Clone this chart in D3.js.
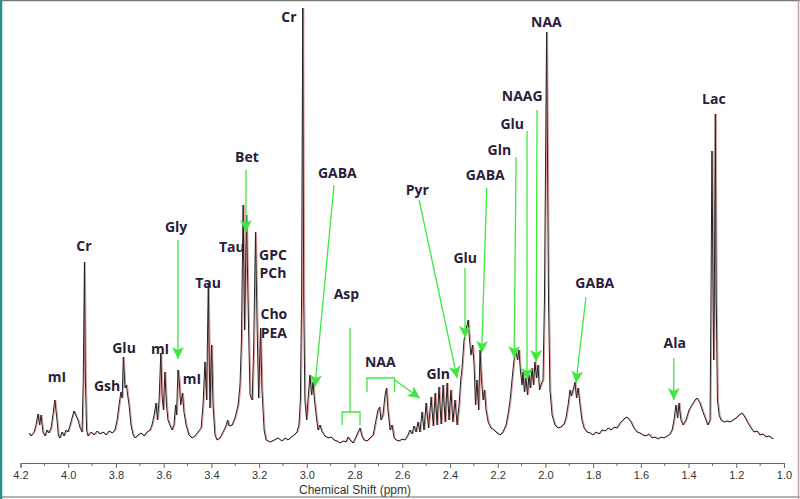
<!DOCTYPE html>
<html>
<head>
<meta charset="utf-8">
<script src="https://cdn.jsdelivr.net/npm/d3@7/dist/d3.min.js"></script>
<style>
  body { margin: 0; background: #fff; }
  svg { display: block; }
  .lbl { font-family: "Open Sans", sans-serif; font-weight: 700; font-size: 14px; fill: #2b1d3a; }
  .axis text { font-family: "Liberation Sans", Arial, sans-serif; font-size: 11px; fill: #333; }
</style>
</head>
<body>
<svg id="chart" width="800" height="499"></svg>
<script>
// spectrum points: [ppm, intensity (a.u.)]
const spectrum = [
  [4.164,7],[4.156,4],[4.143,8],[4.135,15],[4.127,26],[4.120,15],[4.114,25],[4.106,8],[4.097,4],[4.089,10],
  [4.081,7],[4.072,12],[4.064,25],[4.056,40],[4.047,20],[4.041,4],[4.035,2],[4.026,8],[4.018,4],[4.009,10],
  [4.001,8],[3.992,15],[3.984,22],[3.976,29],[3.967,24],[3.959,20],[3.950,12],[3.942,8],[3.937,60],[3.932,178],
  [3.928,60],[3.923,10],[3.917,4],[3.904,8],[3.892,5],[3.879,9],[3.867,6],[3.854,8],[3.842,5],[3.829,9],
  [3.816,7],[3.804,10],[3.795,20],[3.787,35],[3.779,48],[3.774,42],[3.769,83],[3.762,52],[3.756,55],[3.751,45],
  [3.745,35],[3.737,15],[3.728,5],[3.720,2],[3.707,5],[3.695,7],[3.682,4],[3.670,8],[3.657,10],[3.649,15],
  [3.640,25],[3.632,37],[3.626,20],[3.619,40],[3.612,87],[3.607,45],[3.601,30],[3.595,68],[3.588,35],[3.582,20],
  [3.574,15],[3.565,10],[3.557,15],[3.550,35],[3.546,25],[3.540,70],[3.535,60],[3.529,35],[3.521,47],[3.515,28],
  [3.506,15],[3.494,5],[3.481,2],[3.469,4],[3.456,8],[3.443,12],[3.435,35],[3.427,78],[3.420,40],[3.413,157],
  [3.406,32],[3.399,95],[3.393,35],[3.385,5],[3.376,0],[3.364,2],[3.351,8],[3.339,14],[3.332,20],[3.326,14],
  [3.313,15],[3.301,22],[3.288,35],[3.280,55],[3.274,100],[3.267,235],[3.261,110],[3.253,225],[3.244,110],[3.238,45],
  [3.229,40],[3.223,90],[3.215,208],[3.208,110],[3.202,42],[3.194,112],[3.188,50],[3.179,10],[3.171,0],[3.154,-2],
  [3.137,0],[3.121,2],[3.104,-1],[3.092,2],[3.079,0],[3.066,3],[3.054,5],[3.041,8],[3.033,15],[3.027,40],
  [3.022,140],[3.017,432],[3.013,140],[3.008,40],[3.001,20],[2.995,40],[2.987,65],[2.980,45],[2.974,58],[2.968,40],
  [2.961,25],[2.953,10],[2.945,15],[2.936,8],[2.924,4],[2.911,2],[2.899,3],[2.886,0],[2.874,-1],[2.861,-3],
  [2.848,-1],[2.836,-2],[2.827,3],[2.819,0],[2.806,-3],[2.794,3],[2.785,8],[2.777,12],[2.769,4],[2.760,0],
  [2.748,-1],[2.735,2],[2.722,5],[2.710,20],[2.702,30],[2.695,33],[2.689,20],[2.681,25],[2.672,45],[2.666,52],
  [2.660,30],[2.651,10],[2.643,15],[2.634,2],[2.626,0],[2.613,-1],[2.601,1],[2.589,0],[2.576,5],[2.568,10],
  [2.559,6],[2.551,14],[2.542,8],[2.534,18],[2.526,8],[2.517,28],[2.509,10],[2.500,37],[2.490,12],[2.479,43],
  [2.470,14],[2.462,47],[2.454,15],[2.446,53],[2.437,16],[2.429,55],[2.420,18],[2.412,57],[2.404,20],[2.396,50],
  [2.388,18],[2.379,40],[2.370,15],[2.362,35],[2.355,60],[2.350,70],[2.341,100],[2.333,110],[2.324,120],[2.318,100],
  [2.312,85],[2.305,95],[2.299,75],[2.293,35],[2.287,60],[2.280,30],[2.274,90],[2.268,60],[2.261,40],[2.255,50],
  [2.249,30],[2.240,18],[2.228,12],[2.215,10],[2.203,7],[2.190,5],[2.178,8],[2.165,15],[2.157,25],[2.148,40],
  [2.142,55],[2.136,70],[2.129,85],[2.123,88],[2.117,80],[2.111,90],[2.105,70],[2.098,55],[2.094,68],[2.088,48],
  [2.082,62],[2.075,45],[2.069,65],[2.063,52],[2.056,72],[2.050,55],[2.044,78],[2.037,62],[2.031,75],[2.025,50],
  [2.019,55],[2.010,60],[2.004,140],[1.995,408],[1.987,140],[1.981,50],[1.972,25],[1.960,15],[1.947,12],[1.935,13],
  [1.922,16],[1.914,22],[1.905,35],[1.897,50],[1.891,44],[1.884,50],[1.876,58],[1.870,42],[1.863,52],[1.855,35],
  [1.847,20],[1.838,12],[1.826,8],[1.813,7],[1.801,5],[1.788,8],[1.775,6],[1.763,10],[1.750,9],[1.737,12],
  [1.725,10],[1.712,13],[1.700,12],[1.687,17],[1.675,20],[1.662,23],[1.654,22],[1.641,18],[1.629,12],[1.616,8],
  [1.604,7],[1.591,5],[1.579,4],[1.566,6],[1.553,2],[1.541,3],[1.528,1],[1.516,3],[1.503,2],[1.490,4],
  [1.478,6],[1.469,10],[1.461,20],[1.453,35],[1.446,22],[1.440,37],[1.432,20],[1.423,15],[1.411,20],[1.398,30],
  [1.386,35],[1.373,40],[1.365,42],[1.352,37],[1.340,28],[1.327,20],[1.319,15],[1.310,20],[1.306,140],[1.302,289],
  [1.297,140],[1.295,80],[1.292,140],[1.288,326],[1.284,140],[1.279,40],[1.272,25],[1.264,20],[1.251,18],[1.239,19],
  [1.226,18],[1.214,20],[1.201,22],[1.189,25],[1.176,27],[1.164,23],[1.151,17],[1.138,12],[1.126,8],[1.113,9],
  [1.101,5],[1.088,6],[1.076,3],[1.063,4],[1.046,1]
];

// metabolite labels: [text, ppm, intensity]
const labels = [
  ['mI', 4.047, 63], ['Cr', 3.934, 194], ['Gsh', 3.837, 54], ['Glu', 3.766, 92],
  ['mI', 3.615, 91], ['mI', 3.481, 61], ['Tau', 3.414, 157], ['Tau', 3.314, 193],
  ['Gly', 3.548, 213], ['Bet', 3.251, 283], ['GPC', 3.142, 185], ['PCh', 3.142, 167],
  ['Cho', 3.138, 126], ['PEA', 3.138, 107], ['Cr', 3.075, 423], ['GABA', 2.872, 267],
  ['Asp', 2.834, 146], ['NAA', 2.692, 78], ['Pyr', 2.537, 250], ['Gln', 2.449, 66],
  ['Glu', 2.336, 182], ['GABA', 2.252, 265], ['Gln', 2.193, 290], ['Glu', 2.139, 316],
  ['NAAG', 2.097, 344], ['NAA', 1.996, 418], ['GABA', 1.793, 157], ['Ala', 1.458, 97],
  ['Lac', 1.294, 341]
];

// arrows: [ppm start, intensity start, ppm tip, intensity tip]
const arrows = [
  [3.540, 200, 3.540, 81],
  [3.255, 270, 3.255, 208],
  [2.886, 255, 2.966, 53],
  [2.529, 240, 2.370, 62],
  [2.337, 172, 2.337, 102],
  [2.246, 252, 2.267, 87],
  [2.123, 283, 2.131, 82],
  [2.077, 309, 2.077, 60],
  [2.035, 330, 2.039, 78],
  [1.830, 143, 1.872, 57],
  [1.462, 82, 1.462, 40],
  [2.632, 60, 2.526, 42]
];

// brackets: [ppm left, ppm right, intensity bar, intensity legs, stem ppm, stem top]
const brackets = [
  [2.852, 2.777, 28, 15, 2.819, 112],
  [2.748, 2.632, 62, 48, null, null]
];

const xTicks = d3.range(42, 9, -2).map(d => d / 10);
const xMinor = d3.range(41, 10, -2).map(d => d / 10);

const svg = d3.select('#chart');
const x = d3.scaleLinear().domain([4.2, 1.0]).range([20.5, 784]);
const y = d3.scaleLinear().domain([0, 432]).range([440, 8]);
const green = '#3fe83f';

// frame
svg.append('rect').attr('x', 0).attr('y', 0).attr('width', 800).attr('height', 499).attr('fill', '#fff');
svg.append('line').attr('x1', 0).attr('x2', 800).attr('y1', 0.5).attr('y2', 0.5).attr('stroke', '#777').attr('stroke-width', 1.5);
svg.append('line').attr('x1', 0).attr('x2', 800).attr('y1', 497).attr('y2', 497).attr('stroke', '#999').attr('stroke-width', 1.5);
svg.append('line').attr('x1', 798.5).attr('x2', 798.5).attr('y1', 0).attr('y2', 499).attr('stroke', '#b7a4a4').attr('stroke-width', 1.5);
svg.append('line').attr('x1', 1).attr('x2', 1).attr('y1', 0).attr('y2', 499).attr('stroke', '#2b8f8c').attr('stroke-width', 2.5);

// arrowhead
svg.append('defs').append('marker')
  .attr('id', 'head')
  .attr('markerUnits', 'userSpaceOnUse')
  .attr('viewBox', '0 0 12 12')
  .attr('refX', 12).attr('refY', 6)
  .attr('markerWidth', 13).attr('markerHeight', 12)
  .attr('orient', 'auto')
  .append('path')
    .attr('d', 'M0,0 L12,6 L0,12 L3,6 Z')
    .attr('fill', green);

// x axis
const axisG = svg.append('g').attr('class', 'axis').attr('transform', 'translate(0,463)');
axisG.call(d3.axisBottom(x).tickValues(xTicks).tickSize(5).tickPadding(3).tickFormat(d3.format('.1f')));
axisG.select('.domain').attr('stroke', '#666');
axisG.selectAll('.tick line').attr('stroke', '#666');
axisG.selectAll('.minor').data(xMinor).enter().append('line')
  .attr('class', 'minor')
  .attr('x1', d => x(d)).attr('x2', d => x(d))
  .attr('y1', 0).attr('y2', 3)
  .attr('stroke', '#666');
svg.append('text')
  .attr('x', 355).attr('y', 494)
  .attr('text-anchor', 'middle')
  .style('font-family', '"Liberation Sans", Arial, sans-serif')
  .style('font-size', '12px')
  .attr('fill', '#333')
  .text('Chemical Shift (ppm)');

// spectrum
const line = d3.line().x(d => x(d[0])).y(d => y(d[1]));
svg.append('path')
  .datum(spectrum)
  .attr('d', line)
  .attr('transform', 'translate(1,0)')
  .attr('fill', 'none')
  .attr('stroke', '#e39a9a')
  .attr('stroke-width', 1);
svg.append('path')
  .datum(spectrum)
  .attr('d', line)
  .attr('fill', 'none')
  .attr('stroke', '#222')
  .attr('stroke-width', 1)
  .attr('stroke-linejoin', 'round');

// brackets
brackets.forEach(b => {
  const g = svg.append('g').attr('stroke', green).attr('stroke-width', 1.3).attr('fill', 'none');
  g.append('path').attr('d',
    `M${x(b[0])},${y(b[3])}V${y(b[2])}H${x(b[1])}V${y(b[3])}`);
  if (b[4] !== null) {
    g.append('line').attr('x1', x(b[4])).attr('x2', x(b[4]))
      .attr('y1', y(b[5])).attr('y2', y(b[2]));
  }
});

// arrows
svg.selectAll('.arrow').data(arrows).enter().append('line')
  .attr('class', 'arrow')
  .attr('x1', d => x(d[0])).attr('y1', d => y(d[1]))
  .attr('x2', d => x(d[2])).attr('y2', d => y(d[3]))
  .attr('stroke', green)
  .attr('stroke-width', 1.3)
  .attr('marker-end', 'url(#head)');

// labels
svg.selectAll('.lbl').data(labels).enter().append('text')
  .attr('class', 'lbl')
  .attr('x', d => x(d[1]))
  .attr('y', d => y(d[2]))
  .attr('dy', '0.35em')
  .attr('text-anchor', 'middle')
  .text(d => d[0]);
</script>
</body>
</html>
